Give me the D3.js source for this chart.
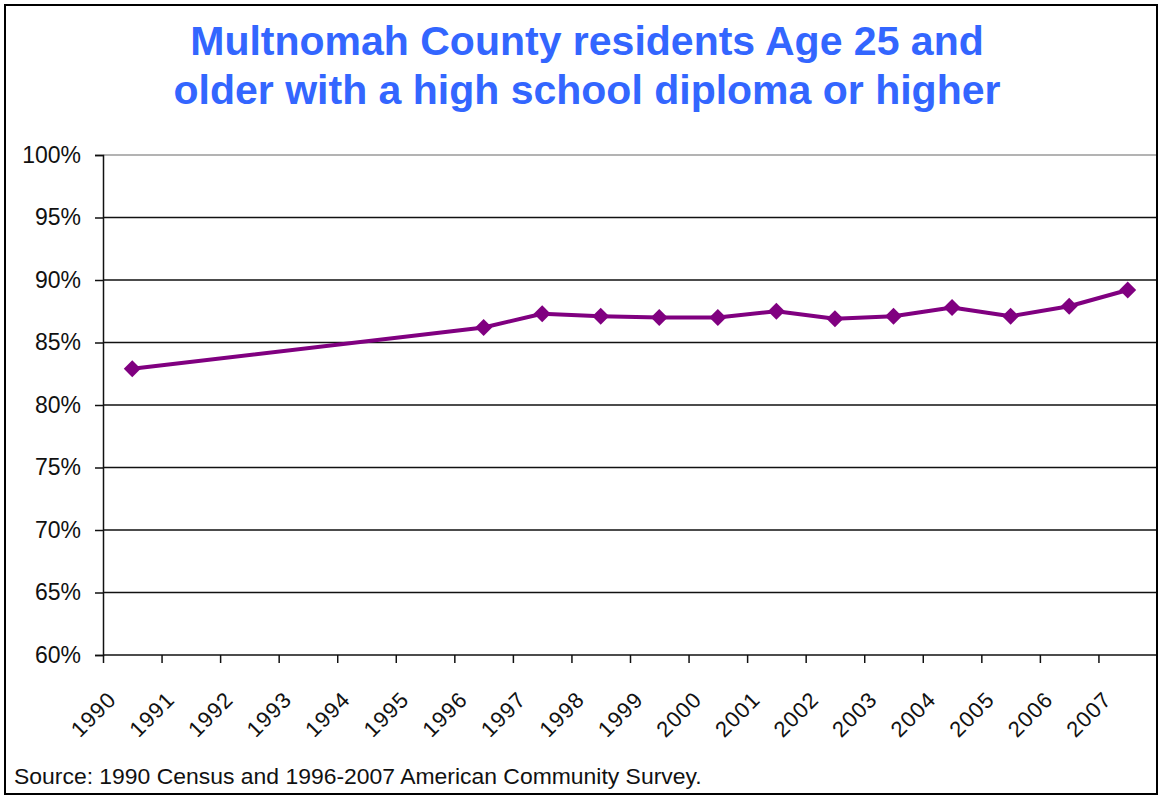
<!DOCTYPE html>
<html>
<head>
<meta charset="utf-8">
<script src="https://cdn.jsdelivr.net/npm/d3@7"></script>
<style>
  html, body { margin: 0; padding: 0; background: #fff; }
  svg { display: block; }
  text { font-family: "Liberation Sans", Arial, sans-serif; }
</style>
</head>
<body>
<svg id="chart" width="1159" height="796"></svg>
<script>
// ---- data ----
const years = ["1990","1991","1992","1993","1994","1995","1996","1997","1998","1999","2000","2001","2002","2003","2004","2005","2006","2007"];
const values = [82.9, null, null, null, null, null, 86.2, 87.3, 87.1, 87.0, 87.0, 87.5, 86.9, 87.1, 87.8, 87.1, 87.9, 89.2];
const yTicks = [60, 65, 70, 75, 80, 85, 90, 95, 100];
const titleLines = ["Multnomah County residents Age 25 and", "older with a high school diploma or higher"];
const sourceText = "Source: 1990 Census and 1996-2007 American Community Survey.";

// ---- layout ----
const svg = d3.select("#chart");
const W = 1159, H = 796;
const plot = { left: 103, right: 1157, top: 155, bottom: 655 };

svg.append("rect").attr("x", 0).attr("y", 0).attr("width", W).attr("height", H).attr("fill", "#fff");

const x = d3.scaleBand().domain(years).range([plot.left, plot.right]).padding(0);
const xTick = d3.scalePoint().domain(years).range([plot.left, plot.right - x.bandwidth()]);
const y = d3.scaleLinear().domain([60, 100]).range([plot.bottom, plot.top]);

// gridlines
svg.append("g").selectAll("line").data(yTicks.filter(d => d > 60)).join("line")
  .attr("x1", plot.left).attr("x2", plot.right)
  .attr("y1", d => y(d)).attr("y2", d => y(d))
  .attr("stroke", d => d === 100 ? "#9a9a9a" : "#111")
  .attr("stroke-width", 1.5);

// y axis
const yAxis = svg.append("g").attr("transform", `translate(${plot.left},0)`)
  .call(d3.axisLeft(y).tickValues(yTicks).tickSize(8).tickPadding(14).tickFormat(d => d + "%"));
yAxis.select(".domain").attr("stroke", "#111").attr("stroke-width", 1.5);
yAxis.selectAll(".tick line").attr("stroke", "#111").attr("stroke-width", 1.5);
yAxis.selectAll(".tick text").attr("font-size", 23).attr("fill", "#111")
  .attr("font-family", "'Liberation Sans', Arial, sans-serif");

// x axis
const xAxis = svg.append("g").attr("transform", `translate(0,${plot.bottom})`)
  .call(d3.axisBottom(xTick).tickSize(8).tickFormat(d => d));
xAxis.select(".domain").remove();
svg.append("line").attr("x1", plot.left).attr("x2", plot.right)
  .attr("y1", plot.bottom).attr("y2", plot.bottom).attr("stroke", "#111").attr("stroke-width", 1.5);
xAxis.selectAll(".tick line").attr("stroke", "#111").attr("stroke-width", 1.5);
xAxis.selectAll(".tick text")
  .attr("font-size", 22).attr("fill", "#111")
  .attr("letter-spacing", 1)
  .attr("font-family", "'Liberation Sans', Arial, sans-serif")
  .attr("text-anchor", "end")
  .attr("dy", null).attr("y", null)
  .attr("transform", "translate(14,46) rotate(-45)");

// line + markers
const pts = years.map((yr, i) => ({ yr, v: values[i] })).filter(d => d.v !== null);
const cx = d => x(d.yr) + x.bandwidth() / 2;
svg.append("path").datum(pts)
  .attr("fill", "none").attr("stroke", "#800080").attr("stroke-width", 4)
  .attr("stroke-linejoin", "round")
  .attr("d", d3.line().x(cx).y(d => y(d.v)));
svg.append("g").selectAll("rect").data(pts).join("rect")
  .attr("x", -6).attr("y", -6).attr("width", 12).attr("height", 12)
  .attr("fill", "#800080")
  .attr("transform", d => `translate(${cx(d)},${y(d.v)}) rotate(45)`);

// title
svg.append("g").selectAll("text").data(titleLines).join("text")
  .attr("x", 587).attr("y", (d, i) => 55 + i * 49)
  .attr("text-anchor", "middle")
  .attr("font-size", 41).attr("font-weight", "bold").attr("fill", "#3366ff")
  .text(d => d);

// source
const src = svg.append("text").attr("x", 14).attr("y", 784)
  .attr("font-size", 20).attr("fill", "#111").text(sourceText);
const len = src.node().getComputedTextLength();
src.attr("font-size", 20 * 688 / len);

// outer border
svg.append("rect").attr("x", 5).attr("y", 5).attr("width", 1152).attr("height", 789)
  .attr("fill", "none").attr("stroke", "#000").attr("stroke-width", 2);
</script>
</body>
</html>
